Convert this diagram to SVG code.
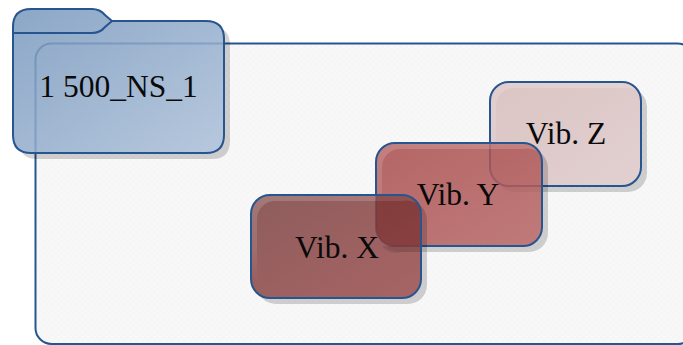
<svg xmlns="http://www.w3.org/2000/svg" width="683" height="345" viewBox="0 0 683 345">
<defs>
<pattern id="dots" width="6" height="6" patternUnits="userSpaceOnUse"><rect width="6" height="6" fill="#f8f8f8"/><circle cx="1.5" cy="1.5" r="1.2" fill="#f5f5f5"/><circle cx="4.5" cy="4.5" r="1.2" fill="#f5f5f5"/></pattern>
<linearGradient id="gF" x1="0" y1="0" x2="1" y2="1"><stop offset="0" stop-color="#7797bd" stop-opacity=".85"/><stop offset="1" stop-color="#acc0d9" stop-opacity=".85"/></linearGradient>
<linearGradient id="gX" x1="0" y1="0" x2="1" y2="1"><stop offset="0" stop-color="#7b4141" stop-opacity=".85"/><stop offset="1" stop-color="#9a4a4a" stop-opacity=".85"/></linearGradient>
<linearGradient id="gY" x1="0" y1="0" x2="1" y2="1"><stop offset="0" stop-color="#a94c4c" stop-opacity=".85"/><stop offset="1" stop-color="#b66464" stop-opacity=".85"/></linearGradient>
<linearGradient id="gZ" x1="0" y1="0" x2="1" y2="1"><stop offset="0" stop-color="#dbc4c4"/><stop offset="1" stop-color="#e2d0d0"/></linearGradient>
<linearGradient id="gL" x1="0" y1="0" x2="0" y2="1"><stop offset="0" stop-color="#fff" stop-opacity=".17"/><stop offset=".6" stop-color="#fff" stop-opacity=".1"/><stop offset="1" stop-color="#fff" stop-opacity="0"/></linearGradient>
<clipPath id="cZ"><path clip-rule="evenodd" d="M480 70H670V210H480ZM509 82A19 19 0 0 0 490 101V167A19 19 0 0 0 509 186H622A19 19 0 0 0 641 167V101A19 19 0 0 0 622 82Z"/></clipPath>
<clipPath id="cY"><path clip-rule="evenodd" d="M370 130H570V270H370ZM395 143A19 19 0 0 0 376 162V227A19 19 0 0 0 395 246H523A19 19 0 0 0 542 227V162A19 19 0 0 0 523 143Z"/></clipPath>
<clipPath id="cX"><path clip-rule="evenodd" d="M240 185H450V320H240ZM270 195A19 19 0 0 0 251 214V279A19 19 0 0 0 270 298H402A19 19 0 0 0 421 279V214A19 19 0 0 0 402 195Z"/></clipPath>
<clipPath id="cF"><path clip-rule="evenodd" d="M0 0H250V175H0ZM13 27Q13 9 31 9H92Q100 9 105 15L112 21H206Q224 21 224 39V135Q224 153 206 153H31Q13 153 13 135Z"/></clipPath>
</defs>
<style>
.o{stroke:#26558f;stroke-width:2}
.s{fill:#000;fill-opacity:.17}
.h{fill:url(#gL)}
text{font-family:"Liberation Serif","Times New Roman",serif;font-size:31.5px;fill:#0a0a0a;text-anchor:middle}
</style>
<g id="connectors"></g>
<g id="container"><rect x="35.500" y="43.500" width="658" height="300.500" rx="16" fill="url(#dots)" class="o"/></g>
<g id="vib-z">
<rect x="496" y="88" width="151" height="104" rx="19" class="s" clip-path="url(#cZ)"/>
<rect x="490" y="82" width="151" height="104" rx="19" fill="url(#gZ)" class="o"/>
<path class="h" d="M509 83H622A18 18 0 0 1 636 90A20 20 0 0 0 622 88H514A18 18 0 0 0 496 106V170A18 18 0 0 1 491 160V101A18 18 0 0 1 509 83Z"/>
<text x="566" y="144">Vib. Z</text>
</g>
<g id="vib-y">
<rect x="382" y="149" width="166" height="103" rx="19" class="s" clip-path="url(#cY)"/>
<rect x="376" y="143" width="166" height="103" rx="19" fill="url(#gY)" class="o"/>
<path class="h" d="M395 144H523A18 18 0 0 1 537 151A20 20 0 0 0 523 149H400A18 18 0 0 0 382 167V230A18 18 0 0 1 377 220V162A18 18 0 0 1 395 144Z"/>
<text x="458" y="205">Vib. Y</text>
</g>
<g id="vib-x">
<rect x="257" y="201" width="170" height="103" rx="19" class="s" clip-path="url(#cX)"/>
<rect x="251" y="195" width="170" height="103" rx="19" fill="url(#gX)" class="o"/>
<path class="h" d="M270 196H402A18 18 0 0 1 416 203A20 20 0 0 0 402 201H275A18 18 0 0 0 257 219V282A18 18 0 0 1 252 272V214A18 18 0 0 1 270 196Z"/>
<path fill="#6e2526" fill-opacity=".35" d="M376 196H402A18 18 0 0 1 420 214V246H395A19 19 0 0 1 376 227Z"/>
<path fill="#000" fill-opacity=".1" d="M382 246H420V252H401A19 19 0 0 1 382 246Z"/>
<text x="337" y="258">Vib. X</text>
</g>
<g id="folder">
<path class="s" clip-path="url(#cF)" d="M19 33Q19 15 37 15H98Q106 15 111 21L118 27H212Q230 27 230 45V141Q230 159 212 159H37Q19 159 19 141Z"/>
<path class="o" fill="url(#gF)" d="M13 27Q13 9 31 9H92Q100 9 105 15L112 21H206Q224 21 224 39V135Q224 153 206 153H31Q13 153 13 135Z"/>
<path class="o" fill="none" d="M13 33H92Q100 33 105 27L112 21"/>
<text x="118.500" y="97">1 500_NS_1</text>
</g>
</svg>
